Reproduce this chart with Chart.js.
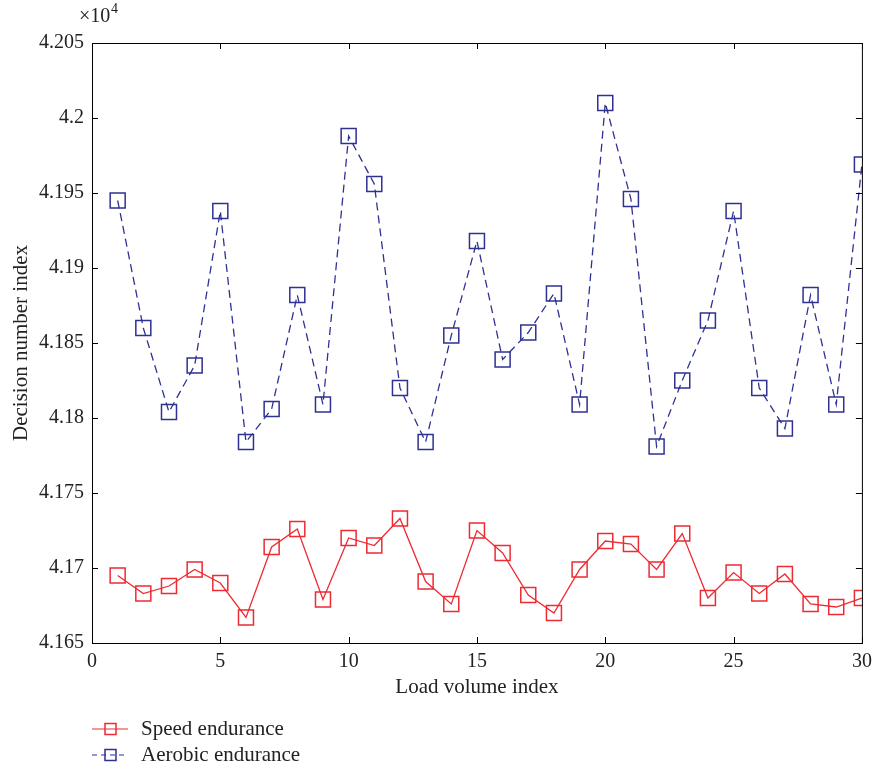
<!DOCTYPE html>
<html>
<head>
<meta charset="utf-8">
<script src="https://cdn.jsdelivr.net/npm/chart.js@4.4.1/dist/chart.umd.min.js"></script>
<style>
  html, body { margin: 0; padding: 0; background: #fff; }
  #wrap { width: 874px; height: 771px; position: relative; }
</style>
</head>
<body>
<div id="wrap"><canvas id="chart" width="874" height="771"></canvas></div>
<script>
const loadIndex = [1, 2, 3, 4, 5, 6, 7, 8, 9, 10, 11, 12, 13, 14, 15,
  16, 17, 18, 19, 20, 21, 22, 23, 24, 25, 26, 27, 28, 29, 30];
const speedEndurance = [4.1695, 4.1683, 4.1688, 4.1699, 4.1690, 4.1667, 4.1714, 4.1726, 4.1679, 4.1720,
  4.1715, 4.1733, 4.1691, 4.1676, 4.1725, 4.1710, 4.1682, 4.1670, 4.1699, 4.1718,
  4.1716, 4.1699, 4.1723, 4.1680, 4.1697, 4.1683, 4.1696, 4.1676, 4.1674, 4.1680];
const aerobicEndurance = [4.1945, 4.1860, 4.1804, 4.1835, 4.1938, 4.1784, 4.1806, 4.1882, 4.1809, 4.1988,
  4.1956, 4.1820, 4.1784, 4.1855, 4.1918, 4.1839, 4.1857, 4.1883, 4.1809, 4.2010,
  4.1946, 4.1781, 4.1825, 4.1865, 4.1938, 4.1820, 4.1793, 4.1882, 4.1809, 4.1969];
const yTicks = [4.165, 4.17, 4.175, 4.18, 4.185, 4.19, 4.195, 4.2, 4.205];
const xTicks = [0, 5, 10, 15, 20, 25, 30];

const RED = "#ee2a33";
const BLUE = "#2e3192";
const FONT = "'Liberation Serif', 'DejaVu Serif', serif";

function toPoints(values) {
  return values.map((v, i) => ({ x: loadIndex[i], y: v }));
}

// box, inward ticks, exponent label and the stacked legend
const framePlugin = {
  id: "frame",
  afterDraw(chart) {
    const { ctx, chartArea: a, scales } = chart;
    ctx.save();
    ctx.strokeStyle = "#000";
    ctx.lineWidth = 1;
    ctx.strokeRect(a.left + 0.5, a.top + 0.5, a.right - a.left, a.bottom - a.top);
    ctx.beginPath();
    xTicks.forEach(v => {
      const px = Math.round(scales.x.getPixelForValue(v)) + 0.5;
      ctx.moveTo(px, a.bottom); ctx.lineTo(px, a.bottom - 6);
      ctx.moveTo(px, a.top); ctx.lineTo(px, a.top + 6);
    });
    yTicks.forEach(v => {
      const py = Math.round(scales.y.getPixelForValue(v)) + 0.5;
      ctx.moveTo(a.left, py); ctx.lineTo(a.left + 6, py);
      ctx.moveTo(a.right, py); ctx.lineTo(a.right - 6, py);
    });
    ctx.stroke();

    ctx.fillStyle = "#222";
    ctx.textBaseline = "alphabetic";
    ctx.textAlign = "left";
    ctx.font = "20px " + FONT;
    ctx.fillText("\u00d710", 79, 22);
    ctx.font = "14px " + FONT;
    ctx.fillText("4", 111, 13);

    const items = [
      { label: chart.data.datasets[0].label, color: RED, dash: [], y: 729 },
      { label: chart.data.datasets[1].label, color: BLUE, dash: [5, 4], y: 755 }
    ];
    items.forEach(it => {
      ctx.strokeStyle = it.color;
      ctx.lineWidth = 1.2;
      ctx.setLineDash(it.dash);
      ctx.beginPath();
      ctx.moveTo(92, it.y); ctx.lineTo(128, it.y);
      ctx.stroke();
      ctx.setLineDash([]);
      ctx.lineWidth = 1.5;
      ctx.strokeRect(105, it.y - 5.5, 11, 11);
      ctx.fillStyle = "#222";
      ctx.font = "21px " + FONT;
      ctx.textBaseline = "middle";
      ctx.fillText(it.label, 141, it.y);
    });
    ctx.restore();
  }
};

new Chart(document.getElementById("chart"), {
  type: "line",
  data: {
    datasets: [
      {
        label: "Speed endurance",
        data: toPoints(speedEndurance),
        borderColor: RED,
        borderWidth: 1.3,
        pointStyle: "rect",
        pointRadius: 10.6,
        pointBorderWidth: 1.5,
        pointBorderColor: RED,
        pointBackgroundColor: "rgba(0,0,0,0)",
        tension: 0
      },
      {
        label: "Aerobic endurance",
        data: toPoints(aerobicEndurance),
        borderColor: BLUE,
        borderWidth: 1.3,
        borderDash: [8, 5],
        pointStyle: "rect",
        pointRadius: 10.6,
        pointBorderWidth: 1.5,
        pointBorderColor: BLUE,
        pointBackgroundColor: "rgba(0,0,0,0)",
        tension: 0
      }
    ]
  },
  options: {
    responsive: false,
    animation: false,
    layout: { padding: { left: 0, right: 9, top: 43, bottom: 71 } },
    plugins: {
      legend: { display: false },
      tooltip: { enabled: false }
    },
    scales: {
      x: {
        type: "linear",
        min: 0,
        max: 30,
        afterFit(scale) {
          scale.height = 57;
          scale.paddingLeft = 0;
          scale.paddingRight = 0;
        },
        afterBuildTicks(scale) { scale.ticks = xTicks.map(v => ({ value: v })); },
        grid: { drawOnChartArea: false, drawTicks: false },
        border: { display: false },
        ticks: { color: "#222", padding: 7, font: { family: FONT, size: 20 } },
        title: {
          display: true,
          text: "Load volume index",
          color: "#222",
          padding: { top: 0, bottom: 0 },
          font: { family: FONT, size: 21 }
        }
      },
      y: {
        type: "linear",
        min: 4.165,
        max: 4.205,
        afterFit(scale) { scale.width = 92; },
        afterBuildTicks(scale) { scale.ticks = yTicks.map(v => ({ value: v })); },
        grid: { drawOnChartArea: false, drawTicks: false },
        border: { display: false },
        ticks: {
          color: "#222",
          padding: 8,
          font: { family: FONT, size: 20 },
          callback: v => String(parseFloat(v.toFixed(3)))
        },
        title: {
          display: true,
          text: "Decision number index",
          color: "#222",
          padding: { top: 9, bottom: 0 },
          font: { family: FONT, size: 21 }
        }
      }
    }
  },
  plugins: [framePlugin]
});
</script>
</body>
</html>
